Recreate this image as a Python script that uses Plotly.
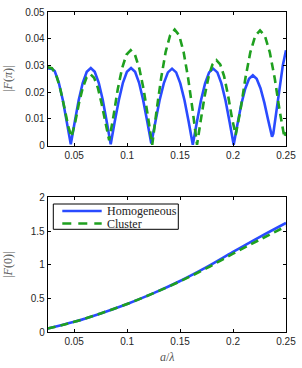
import plotly.graph_objects as go

# ---- top panel: |F(pi)| ----
x_hom_pi = [0.0250, 0.0290, 0.0316, 0.0354, 0.0392, 0.0430, 0.0468,
            0.0506, 0.0543, 0.0581, 0.0619, 0.0657, 0.0694, 0.0732, 0.0770, 0.0807, 0.0845,
            0.0883, 0.0922, 0.0960, 0.0998, 0.1037, 0.1075, 0.1113, 0.1151, 0.1190, 0.1228,
            0.1267, 0.1306, 0.1346, 0.1385, 0.1424, 0.1463, 0.1502, 0.1542, 0.1581, 0.1620,
            0.1659, 0.1697, 0.1736, 0.1774, 0.1813, 0.1852, 0.1890, 0.1929, 0.1967, 0.2006,
            0.2042, 0.2078, 0.2115, 0.2151, 0.2187, 0.2223, 0.2259, 0.2296, 0.2332, 0.2355, 0.2368,
            0.2380, 0.2395, 0.2420, 0.2445, 0.2470, 0.2500]
y_hom_pi = [0.0290, 0.0287, 0.0279, 0.0237, 0.0172, 0.0090, 0.0005,
            0.0090, 0.0171, 0.0235, 0.0276, 0.0290, 0.0276, 0.0235, 0.0171, 0.0090, 0.0005,
            0.0090, 0.0171, 0.0235, 0.0276, 0.0290, 0.0276, 0.0235, 0.0171, 0.0090, 0.0008,
            0.0089, 0.0169, 0.0233, 0.0274, 0.0288, 0.0274, 0.0233, 0.0169, 0.0089, 0.0003,
            0.0089, 0.0169, 0.0233, 0.0274, 0.0288, 0.0274, 0.0233, 0.0169, 0.0089, 0.0003,
            0.0081, 0.0155, 0.0213, 0.0250, 0.0263, 0.0250, 0.0215, 0.0160, 0.0095, 0.0055, 0.0033,
            0.0045, 0.0090, 0.0165, 0.0240, 0.0300, 0.0357]

x_clu_pi = [0.0250, 0.0290, 0.0330, 0.0370, 0.0410, 0.0445, 0.0475,
            0.0511, 0.0546, 0.0582, 0.0617, 0.0653, 0.0688, 0.0724, 0.0759, 0.0795, 0.0830,
            0.0871, 0.0911, 0.0952, 0.0993, 0.1034, 0.1074, 0.1115, 0.1156, 0.1196, 0.1237,
            0.1279, 0.1322, 0.1364, 0.1406, 0.1449, 0.1491, 0.1533, 0.1575, 0.1618, 0.1660,
            0.1697, 0.1733, 0.1770, 0.1806, 0.1843, 0.1879, 0.1916, 0.1952, 0.1989, 0.2025,
            0.2071, 0.2117, 0.2163, 0.2209, 0.2255, 0.2301, 0.2347, 0.2393, 0.2439, 0.2485, 0.2500]
y_clu_pi = [0.0293, 0.0290, 0.0265, 0.0210, 0.0138, 0.0070, 0.0033,
            0.0090, 0.0160, 0.0218, 0.0255, 0.0267, 0.0254, 0.0216, 0.0157, 0.0083, 0.0020,
            0.0110, 0.0210, 0.0289, 0.0340, 0.0357, 0.0340, 0.0289, 0.0210, 0.0110, 0.0003,
            0.0134, 0.0255, 0.0351, 0.0413, 0.0434, 0.0413, 0.0351, 0.0255, 0.0134, 0.0003,
            0.0099, 0.0188, 0.0259, 0.0304, 0.0320, 0.0304, 0.0259, 0.0190, 0.0105, 0.0040,
            0.0135, 0.0253, 0.0349, 0.0410, 0.0431, 0.0410, 0.0349, 0.0253, 0.0133, 0.0030, 0.0050]

# ---- bottom panel: |F(0)| ----
x_f0 = [0.025, 0.05, 0.075, 0.1, 0.125, 0.15, 0.175, 0.2, 0.225, 0.25]
y_hom_0 = [0.055, 0.155, 0.28, 0.42, 0.58, 0.76, 0.965, 1.19, 1.41, 1.62]
y_clu_0 = [0.055, 0.155, 0.28, 0.42, 0.58, 0.755, 0.95, 1.165, 1.37, 1.57]

series_names = ["Homogeneous", "Cluster"]

x_ticks = [0.05, 0.1, 0.15, 0.2, 0.25]
x_ticklabels = ["0.05", "0.1", "0.15", "0.2", "0.25"]
y_ticks_top = [0, 0.01, 0.02, 0.03, 0.04, 0.05]
y_ticklabels_top = ["0", "0.01", "0.02", "0.03", "0.04", "0.05"]
y_ticks_bot = [0, 0.5, 1, 1.5, 2]
y_ticklabels_bot = ["0", "0.5", "1", "1.5", "2"]

BLUE = "#2a4bff"
GREEN = "#1fa01f"
W, H = 302, 368
DASH = "8px,5px"

fig = go.Figure()
fig.add_trace(go.Scatter(x=x_hom_pi, y=y_hom_pi, mode="lines", showlegend=False,
                         line=dict(color=BLUE, width=2.6), xaxis="x", yaxis="y"))
fig.add_trace(go.Scatter(x=x_clu_pi, y=y_clu_pi, mode="lines", showlegend=False,
                         line=dict(color=GREEN, width=2.6, dash=DASH), xaxis="x", yaxis="y"))
fig.add_trace(go.Scatter(x=x_f0, y=y_hom_0, mode="lines", showlegend=False, name=series_names[0],
                         line=dict(color=BLUE, width=2.6, shape="spline"), xaxis="x2", yaxis="y2"))
fig.add_trace(go.Scatter(x=x_f0, y=y_clu_0, mode="lines", showlegend=False, name=series_names[1],
                         line=dict(color=GREEN, width=2.6, dash=DASH, shape="spline"), xaxis="x2", yaxis="y2"))

tickfont = dict(family="Liberation Sans, Arial, sans-serif", size=10, color="#262626")
axcommon = dict(showline=True, linecolor="black", linewidth=1, mirror="allticks",
                ticks="inside", ticklen=3, tickcolor="black", showgrid=False,
                zeroline=False, tickfont=tickfont, automargin=False)

labelfont = dict(family="Liberation Serif, Times New Roman, serif", size=12, color="#555555")
legfont = dict(family="Liberation Serif, Times New Roman, serif", size=12, color="#222222")

def px(xp):
    return xp / W

def py(yp):
    return 1 - yp / H

annotations = [
    dict(text="|<i>F</i>(<i>π</i>)|", x=px(8), y=py(78.8), xref="paper", yref="paper",
         showarrow=False, textangle=-90, font=labelfont, xanchor="center", yanchor="middle"),
    dict(text="|<i>F</i>(0)|", x=px(8), y=py(264.8), xref="paper", yref="paper",
         showarrow=False, textangle=-90, font=labelfont, xanchor="center", yanchor="middle"),
    dict(text="<i>a</i>/<i>λ</i>", x=px(167), y=py(356.5), xref="paper", yref="paper",
         showarrow=False, font=labelfont, xanchor="center", yanchor="middle"),
    dict(text=series_names[0], x=px(104.5), y=py(211), xref="paper", yref="paper",
         showarrow=False, font=legfont, xanchor="left", yanchor="middle"),
    dict(text=series_names[1], x=px(104.5), y=py(223.5), xref="paper", yref="paper",
         showarrow=False, font=legfont, xanchor="left", yanchor="middle"),
]

shapes = [
    dict(type="rect", xref="paper", yref="paper", x0=px(53.3), x1=px(178.3), y0=py(204), y1=py(229.3),
         line=dict(color="black", width=1), fillcolor="white", layer="above"),
    dict(type="line", xref="paper", yref="paper", x0=px(62.3), x1=px(101.7), y0=py(211), y1=py(211),
         line=dict(color=BLUE, width=2.4), layer="above"),
    dict(type="line", xref="paper", yref="paper", x0=px(62.3), x1=px(101.7), y0=py(223.5), y1=py(223.5),
         line=dict(color=GREEN, width=2.4, dash="9px,7px"), layer="above"),
]

fig.update_layout(
    width=W, height=H,
    margin=dict(l=0, r=0, t=0, b=0, autoexpand=False),
    paper_bgcolor="white", plot_bgcolor="white",
    showlegend=False,
    xaxis=dict(domain=[px(47.7), px(286)], range=[0.025, 0.25], anchor="y",
               tickvals=x_ticks, ticktext=x_ticklabels, **axcommon),
    yaxis=dict(domain=[py(145.6), py(12)], range=[0, 0.05], anchor="x",
               tickvals=y_ticks_top, ticktext=y_ticklabels_top, **axcommon),
    xaxis2=dict(domain=[px(47.7), px(286)], range=[0.025, 0.25], anchor="y2",
                tickvals=x_ticks, ticktext=x_ticklabels, **axcommon),
    yaxis2=dict(domain=[py(332.3), py(197.3)], range=[0, 2], anchor="x2",
                tickvals=y_ticks_bot, ticktext=y_ticklabels_bot, **axcommon),
    annotations=annotations,
    shapes=shapes,
)

fig.write_html("out.html",
               config={"displayModeBar": False},
               post_script="document.body.style.margin='0';document.body.style.overflow='hidden';")
